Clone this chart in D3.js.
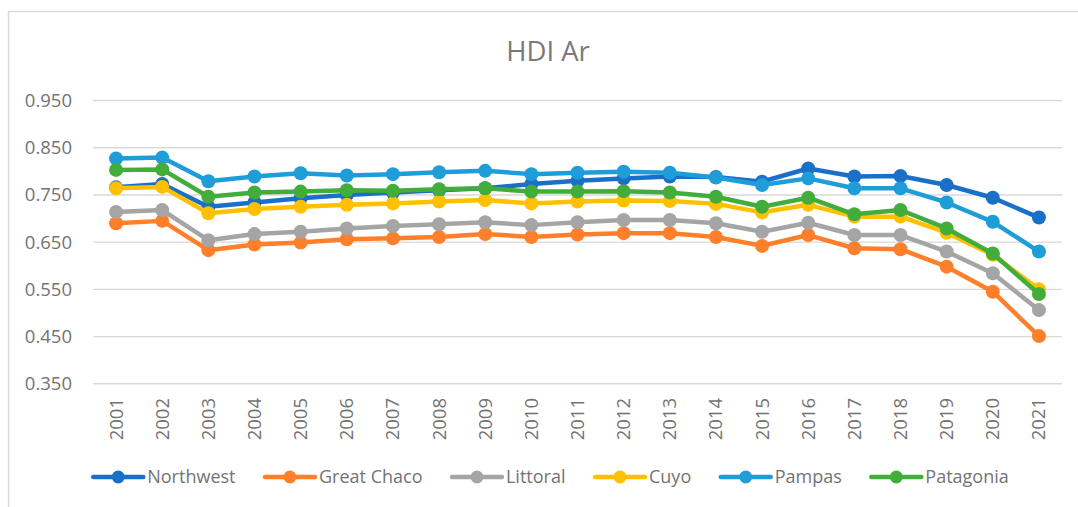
<!DOCTYPE html>
<html>
<head>
<meta charset="utf-8">
<script src="https://cdn.jsdelivr.net/npm/d3@7"></script>
<style>
  html, body { margin: 0; padding: 0; background: #fff; }
  svg { display: block; font-family: "Open Sans", "Noto Sans", sans-serif; }
</style>
</head>
<body>
<svg id="chart" width="1078" height="507"></svg>
<script>
const years = ["2001","2002","2003","2004","2005","2006","2007","2008","2009","2010","2011","2012","2013","2014","2015","2016","2017","2018","2019","2020","2021"];
const seriesNames = ["Northwest","Great Chaco","Littoral","Cuyo","Pampas","Patagonia"];
const northwest  = [0.765,0.772,0.724,0.733,0.742,0.749,0.754,0.759,0.763,0.772,0.779,0.784,0.788,0.787,0.777,0.805,0.788,0.789,0.770,0.743,0.701];
const greatChaco = [0.689,0.694,0.632,0.644,0.648,0.655,0.657,0.660,0.666,0.660,0.665,0.668,0.668,0.660,0.641,0.664,0.636,0.634,0.597,0.544,0.450];
const littoral   = [0.713,0.717,0.653,0.666,0.671,0.678,0.683,0.687,0.691,0.685,0.691,0.696,0.696,0.689,0.671,0.690,0.664,0.664,0.629,0.583,0.505];
const cuyo       = [0.763,0.766,0.710,0.719,0.724,0.728,0.731,0.735,0.738,0.731,0.735,0.737,0.736,0.730,0.712,0.728,0.703,0.703,0.669,0.622,0.549];
const pampas     = [0.826,0.828,0.778,0.788,0.795,0.790,0.793,0.797,0.800,0.793,0.796,0.798,0.796,0.786,0.770,0.784,0.763,0.763,0.733,0.692,0.629];
const patagonia  = [0.802,0.803,0.745,0.754,0.756,0.759,0.758,0.761,0.763,0.756,0.756,0.757,0.754,0.745,0.724,0.743,0.708,0.717,0.678,0.625,0.539];
const yTicks = [0.35,0.45,0.55,0.65,0.75,0.85,0.95];
const colors = ["#1a70c8","#ff7f2a","#a5a5a5","#ffc000","#1f9dd9","#43ad3b"];
const title = "HDI Ar";

const seriesValues = [northwest, greatChaco, littoral, cuyo, pampas, patagonia];

const svg = d3.select("#chart");
const textColor = "#737373";

// chart border
svg.append("rect")
  .attr("x", 8.5).attr("y", 11.5)
  .attr("width", 1100).attr("height", 520)
  .attr("fill", "none").attr("stroke", "#d9d9d9").attr("stroke-width", 1.5);

const plotLeft = 93, plotRight = 1062, plotTop = 100, plotBottom = 383.3;

const x = d3.scaleBand().domain(years).range([plotLeft, plotRight]);
const y = d3.scaleLinear().domain([0.35, 0.95]).range([plotBottom, plotTop]);

// title
svg.append("text")
  .attr("x", 548).attr("y", 60.5)
  .attr("text-anchor", "middle")
  .attr("font-size", 27.5)
  .attr("fill", "#7a7a7a")
  .text(title);

// y axis with gridlines
const yAxis = d3.axisLeft(y)
  .tickValues(yTicks)
  .tickFormat(d3.format(".3f"))
  .tickSize(-(plotRight - plotLeft))
  .tickPadding(21);
const gy = svg.append("g").attr("transform", `translate(${plotLeft},0)`).call(yAxis);
gy.select(".domain").remove();
gy.selectAll(".tick line").attr("stroke", "#d9d9d9").attr("stroke-width", 1.4);
gy.selectAll(".tick text")
  .attr("fill", textColor)
  .attr("font-size", 18.5)
  .attr("font-family", "Open Sans, Noto Sans, sans-serif")
  .attr("dy", "0.35em");

// x axis labels
const xAxis = d3.axisBottom(x).tickSize(0).tickPadding(0);
const gx = svg.append("g").attr("transform", `translate(0,${plotBottom})`).call(xAxis);
gx.select(".domain").remove();
gx.selectAll(".tick text")
  .attr("fill", textColor)
  .attr("font-size", 18.5)
  .attr("font-family", "Open Sans, Noto Sans, sans-serif")
  .attr("text-anchor", "end")
  .attr("transform", "translate(0,14.7) rotate(-90)")
  .attr("x", 0).attr("y", 0)
  .attr("dy", "0.35em");

const cx = d => x(d) + x.bandwidth() / 2;
const line = d3.line().x((d, i) => cx(years[i])).y(d => y(d));

// series
seriesValues.forEach((vals, si) => {
  const g = svg.append("g");
  g.append("path")
    .datum(vals)
    .attr("d", line)
    .attr("fill", "none")
    .attr("stroke", colors[si])
    .attr("stroke-width", 4.5)
    .attr("stroke-linejoin", "round")
    .attr("stroke-linecap", "round");
  g.selectAll("circle")
    .data(vals)
    .join("circle")
    .attr("cx", (d, i) => cx(years[i]))
    .attr("cy", d => y(d))
    .attr("r", 7)
    .attr("fill", colors[si]);
});

// legend
const legY = 477;
const legend = svg.append("g");
const items = legend.selectAll("g.item").data(seriesNames).join("g").attr("class", "item");
items.append("line")
  .attr("x1", 0).attr("x2", 50)
  .attr("y1", legY).attr("y2", legY)
  .attr("stroke", (d, i) => colors[i])
  .attr("stroke-width", 4.5)
  .attr("stroke-linecap", "round");
items.append("circle")
  .attr("cx", 25).attr("cy", legY).attr("r", 6.5)
  .attr("fill", (d, i) => colors[i]);
items.append("text")
  .attr("x", 54).attr("y", legY).attr("dy", "0.35em")
  .attr("font-size", 18)
  .attr("fill", textColor)
  .text(d => d);
const widths = [];
items.each(function() { widths.push(54 + d3.select(this).select("text").node().getComputedTextLength()); });
const gap = 29.5;
const total = d3.sum(widths) + gap * (widths.length - 1);
let startX = 551 - total / 2;
items.attr("transform", (d, i) => {
  const t = `translate(${startX},0)`;
  startX += widths[i] + gap;
  return t;
});
</script>
</body>
</html>
